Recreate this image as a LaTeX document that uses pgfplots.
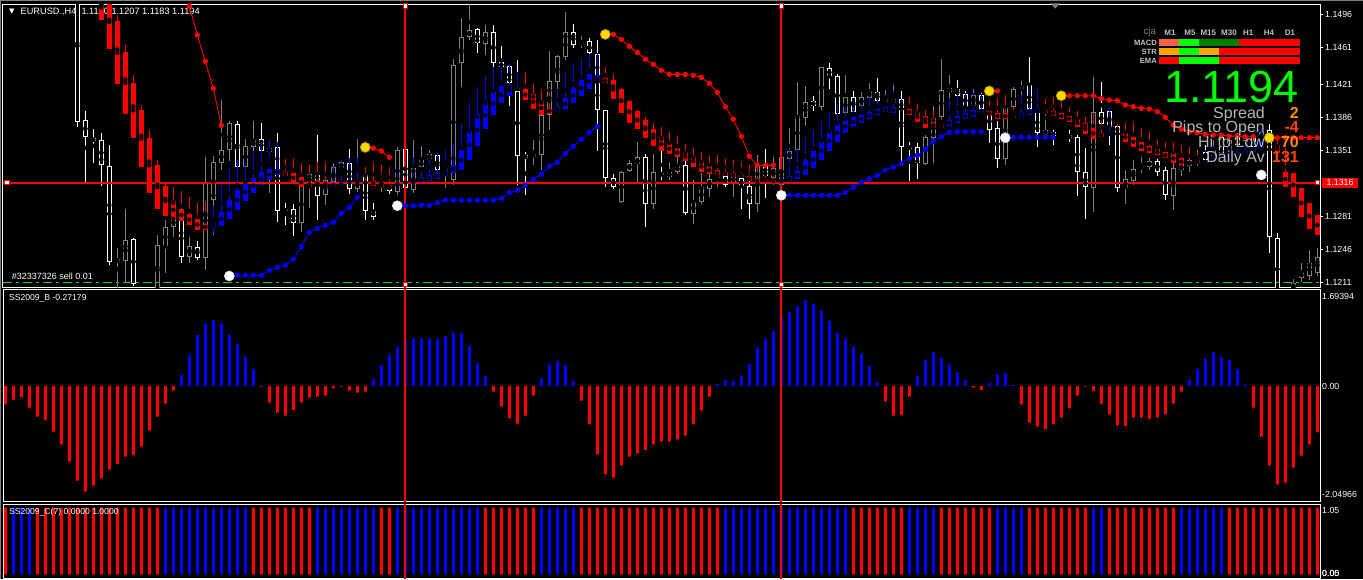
\documentclass[border=0pt]{standalone}
\usepackage{pgfplots}
\pgfplotsset{compat=1.18}
\usepackage{pgfplotstable}
\usepackage{fontspec}
\setmainfont{Liberation Sans}
\newfontfamily\dejavu{DejaVu Sans}
\definecolor{mtred}{RGB}{255,0,0}
\definecolor{mtblue}{RGB}{0,0,255}
\definecolor{mtgray}{RGB}{128,128,128}
\definecolor{mtgold}{RGB}{255,215,0}
\definecolor{mtolive}{RGB}{170,150,0}
\definecolor{mtlime}{RGB}{0,255,0}
\definecolor{mtgreen}{RGB}{0,128,0}
\definecolor{mtorange}{RGB}{255,165,0}
\definecolor{mttomato}{RGB}{255,99,71}
\definecolor{mtdash}{RGB}{40,200,40}
\definecolor{mtsilver}{RGB}{192,192,192}
\definecolor{mttext}{RGB}{180,180,180}
\definecolor{mtdorange}{RGB}{255,140,0}
\definecolor{mtorred}{RGB}{255,69,0}

% real candles: white (bearish) and gray (bullish), k o h l c
\pgfplotstableread{
k o h l c
0 1.15429 1.15535 1.13763 1.13816
1 1.13834 1.13930 1.13151 1.13651
2 1.13643 1.13739 1.13381 1.13608
3 1.13622 1.13693 1.13136 1.13353
4 1.13345 1.13565 1.12293 1.12328
7 1.12569 1.12580 1.12070 1.12091
13 1.12771 1.12952 1.12318 1.12381
15 1.12481 1.12548 1.12346 1.12371
20 1.13789 1.13827 1.13250 1.13338
23 1.13629 1.13799 1.13409 1.13508
25 1.13551 1.13693 1.12753 1.12870
26 1.12885 1.12949 1.12718 1.12870
27 1.12885 1.12941 1.12601 1.12743
30 1.13250 1.13675 1.12771 1.13030
34 1.13374 1.13523 1.13045 1.13098
36 1.13250 1.13250 1.12771 1.12870
37 1.12867 1.12952 1.12771 1.12806
39 1.13140 1.13179 1.13048 1.13083
41 1.13526 1.13569 1.13069 1.13108
45 1.13462 1.13484 1.13250 1.13303
50 1.14799 1.14809 1.14550 1.14650
52 1.14767 1.14844 1.14387 1.14437
53 1.14448 1.14621 1.14313 1.14395
54 1.14408 1.14408 1.13983 1.14225
55 1.14143 1.14472 1.13143 1.13452
56 1.13462 1.13497 1.13037 1.13427
62 1.14767 1.14855 1.14603 1.14628
64 1.14671 1.14706 1.14493 1.14543
65 1.14536 1.14685 1.13508 1.13938
66 1.13941 1.13941 1.13125 1.13221
67 1.13215 1.13260 1.13101 1.13125
71 1.13438 1.13470 1.12700 1.12938
73 1.13268 1.13515 1.13197 1.13247
76 1.13356 1.13409 1.12825 1.12843
81 1.13242 1.13271 1.13122 1.13143
83 1.13215 1.13377 1.12888 1.13136
84 1.13133 1.13228 1.12782 1.12938
86 1.13367 1.13523 1.13002 1.13239
92 1.14036 1.14090 1.13930 1.13983
94 1.14384 1.14443 1.14161 1.14302
95 1.14302 1.14323 1.13856 1.13898
97 1.14082 1.14146 1.13888 1.13923
100 1.14129 1.14278 1.13941 1.14036
103 1.14058 1.14143 1.13399 1.13551
104 1.13551 1.13597 1.13186 1.13534
105 1.13544 1.13587 1.13207 1.13374
110 1.14161 1.14260 1.14047 1.14093
111 1.14108 1.14146 1.13941 1.13976
113 1.14100 1.14118 1.13919 1.13948
114 1.13923 1.14036 1.13593 1.13728
115 1.13746 1.13827 1.13327 1.13420
119 1.14203 1.14501 1.13919 1.13948
120 1.13923 1.13941 1.13551 1.13693
122 1.13710 1.13728 1.13569 1.13664
124 1.13675 1.13728 1.13604 1.13640
125 1.13651 1.13675 1.13030 1.13285
126 1.13278 1.13540 1.12779 1.13119
128 1.13916 1.14235 1.13749 1.13789
129 1.13930 1.13976 1.13569 1.13763
130 1.13771 1.13792 1.13069 1.13108
135 1.13402 1.13420 1.13239 1.13285
136 1.13303 1.13338 1.12984 1.13037
141 1.13494 1.13569 1.13356 1.13409
143 1.13657 1.13696 1.13430 1.13480
145 1.13654 1.13696 1.13494 1.13569
147 1.13643 1.13686 1.13494 1.13547
149 1.13728 1.13792 1.12417 1.12588
150 1.12577 1.12630 1.11868 1.11921
}\whiteC

\pgfplotstableread{
k o h l c
5 1.12322 1.12471 1.12027 1.12357
6 1.12339 1.12885 1.12099 1.12559
10 1.11974 1.12609 1.11921 1.12506
11 1.12488 1.12771 1.12211 1.12694
12 1.12700 1.12984 1.12588 1.12789
14 1.12375 1.12588 1.12311 1.12495
16 1.12364 1.13444 1.12240 1.13168
17 1.12984 1.13452 1.12612 1.13385
18 1.13374 1.14047 1.13303 1.13515
19 1.13515 1.13827 1.13402 1.13799
21 1.13332 1.13632 1.13250 1.13558
22 1.13544 1.13824 1.13409 1.13622
24 1.13497 1.13622 1.13062 1.13534
28 1.12736 1.13218 1.12647 1.13143
29 1.13143 1.13356 1.12896 1.13260
31 1.13037 1.13338 1.12931 1.13197
32 1.13179 1.13381 1.13125 1.13332
33 1.13321 1.13399 1.13250 1.13385
35 1.13098 1.13629 1.13069 1.13197
38 1.13133 1.13303 1.13069 1.13186
40 1.13072 1.13547 1.13037 1.13515
42 1.13090 1.13622 1.13058 1.13321
43 1.13332 1.13558 1.13282 1.13406
44 1.13417 1.13515 1.13356 1.13473
46 1.13295 1.13515 1.13115 1.13327
47 1.13197 1.14490 1.13143 1.14426
48 1.14437 1.14915 1.14188 1.14713
49 1.14720 1.15067 1.14685 1.14788
51 1.14639 1.14844 1.14525 1.14773
57 1.13438 1.13622 1.13356 1.13473
58 1.13459 1.13962 1.13303 1.13888
59 1.13884 1.14571 1.13728 1.14249
60 1.14235 1.14525 1.14167 1.14515
61 1.14501 1.14979 1.14472 1.14767
63 1.14639 1.14727 1.14603 1.14664
68 1.12960 1.13292 1.12949 1.13285
69 1.13295 1.13409 1.13278 1.13374
70 1.13363 1.13597 1.13179 1.13438
72 1.12938 1.13473 1.12885 1.13278
74 1.13232 1.13388 1.13197 1.13278
75 1.13285 1.13441 1.13260 1.13345
77 1.12832 1.13197 1.12726 1.12960
78 1.12963 1.13271 1.12945 1.13119
79 1.13104 1.13314 1.13019 1.13204
80 1.13215 1.13292 1.13122 1.13260
82 1.13165 1.13388 1.13019 1.13239
85 1.12938 1.13462 1.12853 1.13349
87 1.13218 1.13441 1.13143 1.13324
88 1.13143 1.13462 1.13090 1.13438
89 1.13420 1.13746 1.13377 1.13505
90 1.13515 1.14235 1.13494 1.13877
91 1.13859 1.14196 1.13771 1.14026
93 1.13969 1.14401 1.13941 1.14395
96 1.13912 1.14313 1.13888 1.14076
98 1.13983 1.14135 1.13941 1.14082
99 1.14071 1.14231 1.14047 1.14143
101 1.14026 1.14153 1.13983 1.14061
102 1.14018 1.14206 1.13983 1.14061
106 1.13363 1.13675 1.13356 1.13657
107 1.13640 1.13983 1.13374 1.13852
108 1.13869 1.14480 1.13763 1.14153
109 1.14135 1.14313 1.14068 1.14171
112 1.13983 1.14161 1.13962 1.14097
116 1.13417 1.14100 1.13356 1.13959
117 1.13969 1.14182 1.13923 1.14161
118 1.14167 1.14249 1.14079 1.14196
121 1.13682 1.14054 1.13664 1.13728
127 1.13108 1.14288 1.12860 1.13923
131 1.13108 1.13303 1.12941 1.13204
132 1.13186 1.13409 1.13143 1.13310
133 1.13321 1.13444 1.13268 1.13345
134 1.13338 1.13430 1.13303 1.13399
137 1.13030 1.13399 1.12878 1.13321
138 1.13303 1.13430 1.13239 1.13356
139 1.13345 1.13462 1.13282 1.13409
140 1.13391 1.13515 1.13345 1.13444
142 1.13452 1.13622 1.13409 1.13515
144 1.13515 1.13675 1.13462 1.13622
146 1.13558 1.13675 1.13515 1.13622
148 1.13622 1.13749 1.13558 1.13707
152 1.12027 1.12144 1.12006 1.12102
153 1.12155 1.12314 1.12112 1.12219
154 1.12176 1.12452 1.12134 1.12314
155 1.12208 1.12474 1.12176 1.12378
}\grayC

% Heiken Ashi bars, red (bearish) and blue (bullish), k o h l c
\pgfplotstableread{
k o h l c
3 1.15163 1.15216 1.14897 1.14897
4 1.15163 1.15216 1.14589 1.14589
5 1.14887 1.14951 1.14220 1.14220
6 1.14560 1.14632 1.13901 1.13901
7 1.14231 1.14313 1.13646 1.13646
8 1.13941 1.13994 1.13338 1.13338
9 1.13646 1.13728 1.13062 1.13062
10 1.13356 1.13409 1.12888 1.12888
11 1.13136 1.13179 1.12817 1.12817
12 1.12973 1.13125 1.12789 1.12789
13 1.12888 1.13080 1.12764 1.12764
14 1.12835 1.13019 1.12718 1.12718
15 1.12782 1.12949 1.12665 1.12665
16 1.12729 1.12973 1.12665 1.12665
26 1.13282 1.13423 1.13239 1.13239
27 1.13271 1.13430 1.13172 1.13172
28 1.13225 1.13377 1.13125 1.13125
29 1.13179 1.13356 1.13115 1.13115
30 1.13197 1.13391 1.13125 1.13125
31 1.13168 1.13391 1.13133 1.13133
36 1.13186 1.13338 1.13151 1.13151
37 1.13186 1.13385 1.13136 1.13136
38 1.13168 1.13359 1.13119 1.13119
39 1.13140 1.13338 1.13115 1.13115
56 1.14164 1.14348 1.14047 1.14047
57 1.14111 1.14217 1.13951 1.13951
58 1.14036 1.14153 1.13888 1.13888
59 1.13965 1.14182 1.13895 1.13895
66 1.14284 1.14401 1.14225 1.14225
67 1.14260 1.14323 1.14061 1.14061
68 1.14167 1.14175 1.13912 1.13912
69 1.14036 1.14047 1.13806 1.13806
70 1.13930 1.13941 1.13736 1.13736
71 1.13834 1.13863 1.13646 1.13646
72 1.13736 1.13799 1.13561 1.13561
73 1.13657 1.13763 1.13505 1.13505
74 1.13587 1.13704 1.13473 1.13473
75 1.13534 1.13664 1.13444 1.13444
76 1.13494 1.13579 1.13399 1.13399
77 1.13455 1.13537 1.13338 1.13338
78 1.13399 1.13494 1.13282 1.13282
79 1.13345 1.13452 1.13260 1.13260
80 1.13303 1.13462 1.13239 1.13239
81 1.13282 1.13430 1.13239 1.13239
82 1.13271 1.13409 1.13228 1.13228
83 1.13260 1.13388 1.13225 1.13225
84 1.13239 1.13356 1.13186 1.13186
85 1.13215 1.13356 1.13168 1.13168
86 1.13207 1.13356 1.13186 1.13186
87 1.13197 1.13345 1.13175 1.13175
104 1.13951 1.14082 1.13888 1.13888
105 1.13919 1.14004 1.13816 1.13816
106 1.13877 1.13941 1.13753 1.13753
107 1.13816 1.13930 1.13739 1.13739
108 1.13781 1.13856 1.13771 1.13771
114 1.13930 1.14036 1.13880 1.13880
115 1.13909 1.14071 1.13845 1.13845
116 1.13906 1.14100 1.13845 1.13845
117 1.13877 1.13976 1.13859 1.13859
121 1.13941 1.14054 1.13912 1.13912
122 1.13930 1.14082 1.13880 1.13880
123 1.13912 1.14029 1.13842 1.13842
124 1.13877 1.13976 1.13816 1.13816
125 1.13845 1.13930 1.13763 1.13763
126 1.13799 1.13869 1.13682 1.13682
127 1.13753 1.13906 1.13636 1.13636
128 1.13693 1.13852 1.13657 1.13657
130 1.13699 1.13792 1.13682 1.13682
131 1.13699 1.13799 1.13604 1.13604
132 1.13657 1.13816 1.13551 1.13551
133 1.13604 1.13746 1.13505 1.13505
134 1.13561 1.13710 1.13487 1.13487
135 1.13526 1.13622 1.13462 1.13462
136 1.13491 1.13604 1.13427 1.13427
137 1.13480 1.13604 1.13374 1.13374
138 1.13427 1.13569 1.13356 1.13356
139 1.13402 1.13551 1.13356 1.13356
140 1.13409 1.13494 1.13377 1.13377
149 1.13534 1.13643 1.13508 1.13508
150 1.13569 1.13632 1.13484 1.13484
151 1.13285 1.13537 1.13125 1.13125
152 1.13274 1.13274 1.13019 1.13019
153 1.13108 1.13108 1.12800 1.12800
154 1.12949 1.12949 1.12679 1.12679
155 1.12825 1.12825 1.12609 1.12609
}\haRed

\pgfplotstableread{
k o h l c
17 1.12700 1.12920 1.12633 1.12743
18 1.12708 1.13197 1.12708 1.12860
19 1.12782 1.13321 1.12782 1.12984
20 1.12878 1.13409 1.12878 1.13090
21 1.12973 1.13374 1.12973 1.13168
22 1.13062 1.13505 1.13062 1.13215
23 1.13140 1.13579 1.13140 1.13278
24 1.13197 1.13622 1.13197 1.13310
25 1.13250 1.13597 1.13250 1.13310
32 1.13125 1.13338 1.13125 1.13154
33 1.13136 1.13409 1.13136 1.13168
34 1.13154 1.13427 1.13154 1.13197
35 1.13162 1.13434 1.13162 1.13197
40 1.13136 1.13285 1.13136 1.13168
41 1.13154 1.13356 1.13154 1.13186
42 1.13154 1.13430 1.13154 1.13197
43 1.13172 1.13444 1.13172 1.13215
44 1.13186 1.13484 1.13186 1.13250
45 1.13207 1.13494 1.13207 1.13274
46 1.13239 1.13515 1.13239 1.13285
47 1.13268 1.13587 1.13268 1.13356
48 1.13303 1.13781 1.13303 1.13515
49 1.13409 1.14029 1.13409 1.13728
50 1.13561 1.14182 1.13561 1.13898
51 1.13736 1.14295 1.13736 1.14033
52 1.13884 1.14401 1.13884 1.14143
53 1.14012 1.14437 1.14012 1.14196
54 1.14093 1.14437 1.14093 1.14217
55 1.14153 1.14345 1.14153 1.14175
60 1.13933 1.14146 1.13933 1.13973
61 1.13948 1.14348 1.13948 1.14065
62 1.14012 1.14437 1.14012 1.14178
63 1.14093 1.14490 1.14093 1.14260
64 1.14167 1.14536 1.14167 1.14323
65 1.14242 1.14543 1.14242 1.14313
88 1.13168 1.13303 1.13168 1.13204
89 1.13186 1.13526 1.13186 1.13239
90 1.13207 1.13534 1.13207 1.13295
91 1.13250 1.13657 1.13250 1.13409
92 1.13327 1.13728 1.13327 1.13505
93 1.13409 1.13824 1.13409 1.13611
94 1.13508 1.13916 1.13508 1.13717
95 1.13604 1.13994 1.13604 1.13792
96 1.13699 1.13994 1.13699 1.13834
97 1.13763 1.14047 1.13763 1.13869
98 1.13806 1.14047 1.13806 1.13888
99 1.13848 1.14082 1.13848 1.13919
100 1.13884 1.14068 1.13884 1.13951
101 1.13916 1.14100 1.13916 1.13976
102 1.13912 1.14143 1.13912 1.13969
103 1.13941 1.14058 1.13941 1.13965
109 1.13774 1.14058 1.13774 1.13834
110 1.13799 1.14118 1.13799 1.13877
111 1.13842 1.14118 1.13842 1.13906
112 1.13869 1.14125 1.13869 1.13941
113 1.13906 1.14118 1.13906 1.13951
118 1.13863 1.14100 1.13863 1.13906
119 1.13888 1.14161 1.13888 1.13951
120 1.13912 1.14161 1.13912 1.13951
129 1.13675 1.13976 1.13675 1.13699
141 1.13367 1.13515 1.13367 1.13399
142 1.13388 1.13558 1.13388 1.13430
143 1.13420 1.13590 1.13420 1.13462
144 1.13441 1.13622 1.13441 1.13484
145 1.13462 1.13643 1.13462 1.13497
146 1.13470 1.13664 1.13470 1.13508
147 1.13497 1.13696 1.13497 1.13537
148 1.13534 1.13749 1.13534 1.13590
}\haBlue

% SS2009_B histogram value v, SS2009_C state c (1 = blue, 0 = red)
\pgfplotstableread{
k v c
-9 -0.327 0
-8 -0.244 1
-7 -0.196 1
-6 -0.386 1
-5 -0.547 0
-4 -0.606 0
-3 -0.814 0
-2 -1.040 0
-1 -1.349 0
0 -1.688 0
1 -1.884 0
2 -1.777 0
3 -1.646 0
4 -1.492 0
5 -1.391 0
6 -1.260 0
7 -1.230 0
8 -1.082 0
9 -0.796 0
10 -0.547 0
11 -0.315 1
12 -0.083 1
13 0.196 1
14 0.553 1
15 0.909 1
16 1.117 1
17 1.177 1
18 1.117 1
19 0.921 1
20 0.743 1
21 0.529 1
22 0.303 0
23 -0.010 0
24 -0.297 0
25 -0.475 0
26 -0.529 0
27 -0.428 0
28 -0.297 0
29 -0.208 0
30 -0.190 1
31 -0.172 1
32 -0.042 1
33 -0.012 1
34 -0.083 1
35 -0.119 1
36 -0.101 1
37 0.125 1
38 0.374 0
39 0.553 0
40 0.695 1
41 0.800 1
42 0.850 1
43 0.850 1
44 0.838 1
45 0.838 1
46 0.891 1
47 0.957 1
48 0.939 1
49 0.713 1
50 0.410 1
51 0.178 0
52 -0.101 0
53 -0.368 0
54 -0.576 0
55 -0.672 0
56 -0.529 0
57 -0.172 0
58 0.137 1
59 0.386 1
60 0.446 1
61 0.374 1
62 0.089 1
63 -0.261 0
64 -0.683 0
65 -1.218 0
66 -1.575 0
67 -1.634 0
68 -1.420 0
69 -1.260 0
70 -1.200 0
71 -1.141 0
72 -1.040 0
73 -0.992 0
74 -0.992 0
75 -0.951 0
76 -0.885 0
77 -0.683 0
78 -0.440 0
79 -0.190 0
80 0.036 0
81 0.107 1
82 0.089 1
83 0.184 1
84 0.392 1
85 0.683 1
86 0.838 1
87 0.987 1
88 1.248 1
89 1.325 1
90 1.414 1
91 1.533 1
92 1.462 1
93 1.343 1
94 1.165 1
95 0.951 1
96 0.838 1
97 0.701 0
98 0.571 0
99 0.357 0
100 0.059 0
101 -0.279 0
102 -0.529 0
103 -0.517 0
104 -0.190 1
105 0.178 1
106 0.464 1
107 0.600 1
108 0.505 0
109 0.386 0
110 0.244 0
111 0.107 0
112 -0.030 0
113 -0.071 0
114 0.053 0
115 0.208 1
116 0.232 1
117 0.018 1
118 -0.327 1
119 -0.654 0
120 -0.725 0
121 -0.767 0
122 -0.683 0
123 -0.565 0
124 -0.398 0
125 -0.172 0
126 -0.012 0
127 -0.089 1
128 -0.321 1
129 -0.505 0
130 -0.707 0
131 -0.713 0
132 -0.565 0
133 -0.565 0
134 -0.588 0
135 -0.565 0
136 -0.499 0
137 -0.315 0
138 -0.101 1
139 0.119 1
140 0.303 1
141 0.493 1
142 0.600 1
143 0.517 1
144 0.458 0
145 0.303 0
146 0.030 0
147 -0.386 0
148 -0.903 0
149 -1.420 0
150 -1.753 0
151 -1.723 0
152 -1.456 0
153 -1.242 0
154 -1.040 0
155 -0.826 0
}\ssb

\pgfplotsset{
  cwick/.style={only marks, mark=none,
    error bars/.cd, y dir=both, y explicit, error mark=none,
    error bar style={line width=1pt, draw=#1, solid}},
  cbody/.style 2 args={only marks, mark=none,
    error bars/.cd, y dir=both, y explicit, error mark=none,
    error bar style={line width=#2, draw=#1, solid}},
  mtaxis/.style={anchor=north west, scale only axis, width=1317pt,
    xmin=-9.29, xmax=155.34, xtick=\empty,
    axis line style={white, line width=1pt},
    ytick pos=right, yticklabel pos=right,
    tick align=outside, major tick length=3pt,
    tick style={white, line width=0.8pt},
    yticklabel style={font=\fontsize{8.8}{10}\selectfont, text=white, inner sep=2pt}},
  rdots/.style={mtred, line width=0.9pt, mark=*, mark size=2.2pt, mark options={solid, fill=mtred, draw=mtred}},
  bdots/.style={mtblue, line width=0.9pt, mark=*, mark size=2.2pt, mark options={solid, fill=mtblue, draw=mtblue}},
}

\begin{document}
\begin{tikzpicture}[x=1pt,y=1pt]
\useasboundingbox (0,0) rectangle (1363,-579);
\fill[black] (0,0) rectangle (1363,-579);
\draw[mtgray, line width=1pt] (0,-0.5) -- (1363,-0.5);
\draw[mtgray, line width=1pt] (0.5,0) -- (0.5,-579);

% header
\node[text=white, inner sep=0, font=\dejavu\fontsize{7}{8}\selectfont] at (11.7,-11.5) {▼};
\node[anchor=west, inner sep=0, text=white, font=\fontsize{9.2}{10}\selectfont] at (20.5,-11.7) {EURUSD.,H4\ \ 1.1190 1.1207 1.1183 1.1194};

% ---------------- main price panel ----------------
\begin{axis}[mtaxis, at={(3pt,-4pt)}, height=283pt,
  ymin=1.12059, ymax=1.15068,
  ytick={1.1496,1.1461,1.1421,1.1386,1.1351,1.1281,1.1246,1.1211},
  yticklabels={1.1496,1.1461,1.1421,1.1386,1.1351,1.1281,1.1246,1.1211}]

% real candles
\addplot[cwick=white] table[x=k, y expr={(\thisrow{h}+\thisrow{l})/2}, y error expr={(\thisrow{h}-\thisrow{l})/2}]{\whiteC};
\addplot[cbody={white}{5pt}] table[x=k, y expr={(\thisrow{o}+\thisrow{c})/2}, y error expr={max(abs(\thisrow{o}-\thisrow{c})/2,0.00006)}]{\whiteC};
\addplot[cbody={black}{3pt}] table[x=k, y expr={(\thisrow{o}+\thisrow{c})/2}, y error expr={max(abs(\thisrow{o}-\thisrow{c})/2-0.000106,0)}]{\whiteC};

\addplot[cwick=mtgray] table[x=k, y expr={(\thisrow{h}+\thisrow{l})/2}, y error expr={(\thisrow{h}-\thisrow{l})/2}]{\grayC};
\addplot[cbody={mtgray}{5pt}] table[x=k, y expr={(\thisrow{o}+\thisrow{c})/2}, y error expr={max(abs(\thisrow{o}-\thisrow{c})/2,0.00006)}]{\grayC};
\addplot[cbody={black}{3pt}] table[x=k, y expr={(\thisrow{o}+\thisrow{c})/2}, y error expr={max(abs(\thisrow{o}-\thisrow{c})/2-0.000106,0)}]{\grayC};

% Heiken Ashi
\addplot[cwick=mtred] table[x=k, y expr={(\thisrow{h}+\thisrow{l})/2}, y error expr={(\thisrow{h}-\thisrow{l})/2}]{\haRed};
\addplot[cbody={mtred}{5pt}] table[x=k, y expr={(\thisrow{o}+\thisrow{c})/2}, y error expr={max(abs(\thisrow{o}-\thisrow{c})/2,0.00008)}]{\haRed};
\addplot[cwick=mtblue] table[x=k, y expr={(\thisrow{h}+\thisrow{l})/2}, y error expr={(\thisrow{h}-\thisrow{l})/2}]{\haBlue};
\addplot[cbody={mtblue}{5pt}] table[x=k, y expr={(\thisrow{o}+\thisrow{c})/2}, y error expr={max(abs(\thisrow{o}-\thisrow{c})/2,0.00008)}]{\haBlue};

% order line
\addplot[mtdash, line width=1pt, dash pattern=on 9pt off 4pt on 3pt off 4pt] coordinates {(-9.3,1.12105) (155.4,1.12105)};

% signal markers
\addplot[only marks, mark=*, mark size=5pt, mark options={fill=mtgold, draw=mtolive, line width=0.8pt}]
  coordinates {(36,1.13544) (66,1.14745) (114,1.14143) (123,1.14093) (149,1.13646)};
\addplot[only marks, mark=*, mark size=5pt, mark options={fill=white, draw=white!85!blue, line width=0.6pt}]
  coordinates {(19,1.12176) (40,1.12923) (88,1.13034) (116,1.13646) (148,1.13250)};

% trailing stop dotted lines
\addplot[rdots] coordinates {(13,1.15376) (14,1.15046) (15,1.14738) (16,1.14458) (17,1.14171) (18,1.13778)};
\addplot[rdots, mark repeat=1, mark phase=2] coordinates {(36,1.13544) (37,1.13534) (38,1.13505) (39,1.13438)};
\addplot[rdots, mark repeat=1, mark phase=2] coordinates {(66,1.14745) (67,1.14745) (68,1.14692) (69,1.14618) (70,1.14554) (71,1.14480) (72,1.14426) (73,1.14363) (74,1.14320) (75,1.14320) (76,1.14320) (77,1.14310) (78,1.14288) (79,1.14225) (80,1.14129) (81,1.13976) (82,1.13842) (83,1.13661) (84,1.13449) (85,1.13353) (86,1.13353) (87,1.13353)};
\addplot[rdots, mark repeat=1, mark phase=2] coordinates {(114,1.14143) (115,1.14143)};
\addplot[rdots, mark repeat=1, mark phase=2] coordinates {(123,1.14093) (124,1.14093) (125,1.14093) (126,1.14093) (127,1.14093) (128,1.14061) (129,1.14047) (130,1.14040) (131,1.13994) (132,1.13976) (133,1.13959) (134,1.13951) (135,1.13923) (136,1.13863) (137,1.13781) (138,1.13736) (139,1.13710) (140,1.13699) (141,1.13682) (142,1.13675) (143,1.13675) (144,1.13664) (145,1.13664) (146,1.13657) (147,1.13657)};
\addplot[rdots, mark repeat=1, mark phase=2] coordinates {(149,1.13646) (150,1.13646) (151,1.13646) (152,1.13646) (153,1.13646) (154,1.13646) (155,1.13646)};

\addplot[bdots, mark repeat=1, mark phase=2] coordinates {(19,1.12176) (20,1.12184) (21,1.12184) (22,1.12184) (23,1.12184) (24,1.12237) (25,1.12269) (26,1.12290) (27,1.12354) (28,1.12488) (29,1.12641) (30,1.12683) (31,1.12715) (32,1.12747) (33,1.12843) (34,1.12906) (35,1.13013)};
\addplot[bdots, mark repeat=1, mark phase=2] coordinates {(40,1.12923) (41,1.12923) (42,1.12923) (43,1.12928) (44,1.12928) (45,1.12955) (46,1.12984) (47,1.12981) (48,1.12981) (49,1.12981) (50,1.12981) (51,1.12981) (52,1.12981) (53,1.13002) (54,1.13062) (55,1.13087) (56,1.13140) (57,1.13204) (58,1.13257) (59,1.13345) (60,1.13385) (61,1.13480) (62,1.13555) (63,1.13629) (64,1.13704) (65,1.13767)};
\addplot[bdots, mark repeat=1, mark phase=2] coordinates {(88,1.13034) (89,1.13034) (90,1.13034) (91,1.13034) (92,1.13034) (93,1.13034) (94,1.13034) (95,1.13034) (96,1.13066) (97,1.13119) (98,1.13172) (99,1.13210) (100,1.13247) (101,1.13303) (102,1.13332) (103,1.13374) (104,1.13427) (105,1.13459) (106,1.13523) (107,1.13608) (108,1.13657) (109,1.13704) (110,1.13710) (111,1.13710) (112,1.13710) (113,1.13710)};
\addplot[bdots, mark repeat=1, mark phase=2] coordinates {(116,1.13646) (117,1.13651) (118,1.13651) (119,1.13651) (120,1.13651) (121,1.13651) (122,1.13651)};

% horizontal and vertical lines
\addplot[mtred, line width=2pt] coordinates {(-9.3,1.13168) (155.4,1.13168)};
\addplot[mtred, line width=2pt] coordinates {(41,1.11) (41,1.16)};
\addplot[mtred, line width=2pt] coordinates {(88,1.11) (88,1.16)};
\addplot[only marks, mark=square*, mark size=2.2pt, mark options={fill=white, draw=mtred, line width=1pt}]
  coordinates {(-8.8,1.13168) (155.0,1.13168) (41,1.15046) (41,1.12088) (88,1.15046) (88,1.12088)};
\end{axis}

% ---------------- SS2009_B histogram ----------------
\begin{axis}[mtaxis, at={(3pt,-289pt)}, height=212pt,
  ymin=-2.050, ymax=1.7295, major tick length=0pt,
  ytick={1.592,0,-1.931}, yticklabels={1.69394,0.00,-2.04966}]
\addplot[ybar, bar width=3pt, bar shift=0pt, fill=mtblue, draw=none, restrict y to domain=0:5] table[x=k, y=v]{\ssb};
\addplot[ybar, bar width=3pt, bar shift=0pt, fill=mtred, draw=none, restrict y to domain=-5:0] table[x=k, y=v]{\ssb};
\addplot[mtred, line width=2pt] coordinates {(41,-5) (41,5)};
\addplot[mtred, line width=2pt] coordinates {(88,-5) (88,5)};
\end{axis}

% ---------------- SS2009_C bars ----------------
\begin{axis}[mtaxis, at={(3pt,-504pt)}, height=74pt,
  ymin=-0.056, ymax=1.056, major tick length=0pt,
  ytick={0.955,0.01}, yticklabels={1.05,\rlap{0.00}0.05}]
\addplot[ybar, bar width=3pt, bar shift=0pt, fill=mtblue, draw=none] table[x=k, y=c]{\ssb};
\addplot[ybar, bar width=3pt, bar shift=0pt, fill=mtred, draw=none] table[x=k, y expr={1-\thisrow{c}}]{\ssb};
\addplot[mtred, line width=2pt] coordinates {(41,-5) (41,5)};
\addplot[mtred, line width=2pt] coordinates {(88,-5) (88,5)};
\end{axis}

% panel titles and order label
\node[anchor=west, inner sep=0, text=white, font=\fontsize{8.6}{10}\selectfont] at (8.9,-298.3) {SS2009\_B -0.27179};
\node[anchor=west, inner sep=0, text=white, font=\fontsize{8.6}{10}\selectfont] at (8.9,-512.3) {SS2009\_C(7) 0.0000 1.0000};
\node[anchor=west, inner sep=0, text=white, font=\fontsize{9}{10}\selectfont] at (11.7,-276) {\#32337326 sell 0.01};

% shift marker
\fill[mtgray] (1050.5,-3.3) -- (1060,-3.3) -- (1055.3,-8.5) -- cycle;

% current line price label
\node[fill=mtred, text=white, inner sep=0, minimum width=36.6pt, minimum height=10pt, font=\fontsize{8.8}{10}\selectfont] at (1340,-182.7) {1.1316};

% info panel (cja)
\node[anchor=east, inner sep=0, text=mtgray, font=\fontsize{9.5}{10}\selectfont] at (1156,-32.3) {cja};
\foreach \t/\x in {M1/1170, M5/1190, M15/1208.3, M30/1229, H1/1248.3, H4/1269, D1/1290}
  \node[inner sep=0, text=mtsilver, font=\bfseries\fontsize{8}{9}\selectfont] at (\x,-32.3) {\t};
\node[anchor=east, inner sep=0, text=mtsilver, font=\bfseries\fontsize{7.6}{9}\selectfont] at (1157,-42.5) {MACD};
\node[anchor=east, inner sep=0, text=mtsilver, font=\bfseries\fontsize{7.6}{9}\selectfont] at (1157,-51.5) {STR};
\node[anchor=east, inner sep=0, text=mtsilver, font=\bfseries\fontsize{7.6}{9}\selectfont] at (1157,-60.5) {EMA};
\fill[mttomato] (1158.5,-39.3) rectangle (1179.3,-45.6);
\fill[mtlime] (1179.3,-39.3) rectangle (1199.3,-45.6);
\fill[mtgreen] (1199.3,-39.3) rectangle (1239.3,-45.6);
\fill[mtred] (1239.3,-39.3) rectangle (1300,-45.6);
\fill[mtorange] (1158.5,-48.3) rectangle (1179.3,-54.6);
\fill[mtlime] (1179.3,-48.3) rectangle (1199.3,-54.6);
\fill[mtorange] (1199.3,-48.3) rectangle (1219.3,-54.6);
\fill[mtred] (1219.3,-48.3) rectangle (1300,-54.6);
\fill[mtred] (1158.5,-57.3) rectangle (1179.3,-63.6);
\fill[mtlime] (1179.3,-57.3) rectangle (1219.3,-63.6);
\fill[mtred] (1219.3,-57.3) rectangle (1300,-63.6);

\node[anchor=base east, inner sep=0, text=mtlime, font=\fontsize{45}{45}\selectfont] at (1298.5,-102.3) {1.1194};
\node[anchor=base east, inner sep=0, text=mttext, font=\fontsize{16}{16}\selectfont] at (1265,-118) {Spread};
\node[anchor=base east, inner sep=0, text=mttext, font=\fontsize{16}{16}\selectfont] at (1265,-132.8) {Pips to Open};
\node[anchor=base east, inner sep=0, text=mttext, font=\fontsize{16}{16}\selectfont] at (1265,-147.6) {Hi to Low};
\node[anchor=base east, inner sep=0, text=mttext, font=\fontsize{16}{16}\selectfont] at (1265,-162.4) {Daily Av};
\node[anchor=base east, inner sep=0, text=mtdorange, font=\bfseries\fontsize{16}{16}\selectfont] at (1299,-118) {2};
\node[anchor=base east, inner sep=0, text=mtorred, font=\bfseries\fontsize{16}{16}\selectfont] at (1299,-132.8) {-4};
\node[anchor=base east, inner sep=0, text=mtdorange, font=\bfseries\fontsize{16}{16}\selectfont] at (1299,-147.6) {70};
\node[anchor=base east, inner sep=0, text=mtorred, font=\bfseries\fontsize{16}{16}\selectfont] at (1299,-162.4) {131};
\end{tikzpicture}
\end{document}
